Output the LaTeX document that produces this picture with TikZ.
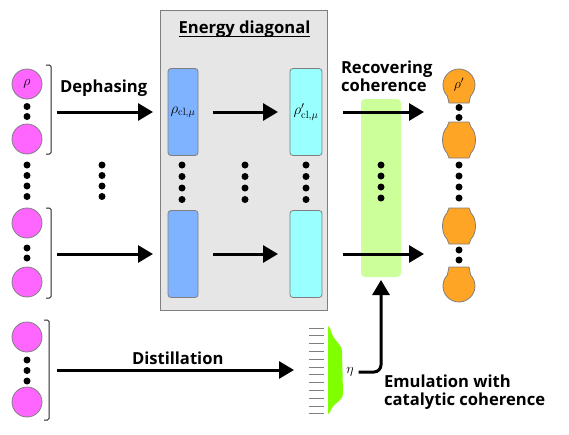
\RequirePackage{fix-cm}
\documentclass[tikz,border=0pt]{standalone}
\usepackage{fontspec}
\setsansfont{Open Sans}
\usetikzlibrary{arrows.meta}
\definecolor{pinkfill}{HTML}{FF66FF}
\definecolor{bluefill}{HTML}{80B3FF}
\definecolor{cyanfill}{HTML}{99FFFF}
\definecolor{greenfill}{HTML}{CCFF99}
\definecolor{orangefill}{HTML}{FFA526}
\definecolor{boxfill}{HTML}{E6E6E6}
\definecolor{distfill}{HTML}{80FF00}
\definecolor{edge}{HTML}{7F7F7F}
\begin{document}
\begin{tikzpicture}[x=1pt,y=-1pt,
  every node/.style={inner sep=0,outer sep=0},
  pinkball/.style={circle,draw=edge,fill=pinkfill,line width=0.8pt,minimum size=30pt},
  tallbox/.style={rectangle,rounded corners=3pt,draw=edge,line width=0.8pt,minimum width=30pt,minimum height=87pt},
  orangeball/.style={draw=edge,fill=orangefill,line width=0.8pt},
  mathlbl/.style={font=\fontsize{14}{16}\selectfont},
  txt/.style={font=\sffamily\bfseries\fontsize{16.6}{17.5}\selectfont,align=left},
  arr/.style={line width=3pt,-{Triangle[length=15pt,width=17pt]}},
  brk/.style={draw=black!85,line width=1pt,rounded corners=1.5pt}]
  \useasboundingbox (0,0) rectangle (569,434);

  %% Energy diagonal box
  \node[draw=edge,fill=boxfill,line width=0.8pt,minimum width=167pt,minimum height=300pt,anchor=north west] (E) at (160,10) {};
  \node[txt,anchor=base] (Etitle) at (244.5,33) {Energy diagonal};
  \draw[line width=1.2pt] ([yshift=-3.5pt]Etitle.base west) -- ([yshift=-3.5pt]Etitle.base east);

  %% Input copies (left)
  \node[pinkball] (R1) at (27,84) {\fontsize{14}{16}\selectfont$\rho$};
  \node[pinkball] (R2) at (27,139) {};
  \node[pinkball] (R3) at (27,223) {};
  \node[pinkball] (R4) at (27,282) {};
  \node[pinkball] (R5) at (27,337) {};
  \node[pinkball] (R6) at (27,402) {};
  \foreach \y in {106.5,116.5,248,258,360,370.5,381} \fill (27,\y) circle[radius=3.5];
  \foreach \x in {27,102} \foreach \y in {165,175.5,186,196.5} \fill (\x,\y) circle[radius=3.5];
  \draw[brk] (46,65) -- (51,65) -- (51,154) -- (46,154);
  \draw[brk] (46,208) -- (51,208) -- (51,298) -- (46,298);
  \draw[brk] (44,320) -- (49,320) -- (49,420) -- (44,420);

  %% Blocks in the box
  \node[tallbox,fill=bluefill] (B1) at (183,112) {\fontsize{15}{17}\selectfont$\rho_{\mathrm{cl},\mu}$};
  \node[tallbox,fill=bluefill] (B2) at (183,254) {};
  \node[tallbox,fill=cyanfill,minimum width=32pt] (C1) at (306,112) {\fontsize{15}{17}\selectfont$\rho'_{\mathrm{cl},\mu}$};
  \node[tallbox,fill=cyanfill,minimum width=32pt] (C2) at (306,254) {};
  \foreach \x in {182,245,306} \foreach \y in {165,176.5,188,199.5} \fill (\x,\y) circle[radius=3.5];

  %% Catalyst rectangle
  \node[rectangle,rounded corners=4pt,fill=greenfill,minimum width=40pt,minimum height=178pt] (G) at (381,188) {};
  \foreach \y in {165,176,187,198} \fill (381,\y) circle[radius=3.5];

  %% Output copies (right)
  \draw[orangeball] (449,103) -- (469,103) -- (470.6,96) arc[start angle=43.4,end angle=-223.4,radius=16] -- cycle;
  \node[mathlbl] (O1) at (459,85) {$\rho'$};
  \foreach \s in {0,86}
    \draw[orangeball,shift={(0,\s)}] (449,122) -- (469,122) -- (471,127) .. controls (477,133) and (477,147) .. (471,153)
      -- (469,158) -- (449,158) -- (447,153) .. controls (441,147) and (441,133) .. (447,127) -- cycle;
  \draw[orangeball] (449,267) -- (469,267) -- (470.6,275) arc[start angle=-43.4,end angle=223.4,radius=16] -- cycle;
  \foreach \y in {107.5,117.5,165,176,187,198,250,260} \fill (459,\y) circle[radius=3.5];

  %% Distilled catalyst
  \foreach \i in {0,...,11} \draw[edge,line width=1pt] (309,328+7.8*\i) -- (324,328+7.8*\i);
  \fill[distfill] (328,326) -- (330,328) .. controls (333,342) and (342,343) .. (342,352) -- (343,393)
    .. controls (343,402) and (333,402) .. (330,412) -- (328,414) -- cycle;
  \node[mathlbl] (eta) at (350,372) {$\eta$};

  %% Arrows
  \coordinate (D1) at (57,112);
  \coordinate (D2) at (57,254);
  \coordinate (D3) at (57,370);
  \coordinate (L) at (309,370);
  \coordinate (T1) at (424,112);
  \coordinate (T2) at (424,254);
  \draw[arr,shorten >=15pt] (D1) -- (D1 -| B1.west);
  \draw[arr,shorten >=15pt] (D2) -- (D2 -| B2.west);
  \draw[arr,shorten >=15pt] (D3) -- (L);
  \draw[arr,shorten <=15pt,shorten >=12pt] (B1) -- (C1);
  \draw[arr,shorten <=15pt,shorten >=12pt] (B2) -- (C2);
  \draw[arr,shorten <=21pt] (C1.east) -- (T1);
  \draw[arr,shorten <=21pt] (C2.east) -- (T2);
  \draw[arr,rounded corners=7pt,shorten <=5pt,shorten >=3pt] (eta.east) -| (G.south);

  %% Labels
  \node[txt,anchor=base west] (deph) at (60,92) {Dephasing};
  \node[txt,anchor=base west] (dist) at (132,364) {Distillation};
  \node[txt,anchor=north west] (rec) at (341,61) {Recovering\\coherence};
  \node[txt,anchor=north west] (emu) at (384,375) {Emulation with\\catalytic coherence};
\end{tikzpicture}
\end{document}
